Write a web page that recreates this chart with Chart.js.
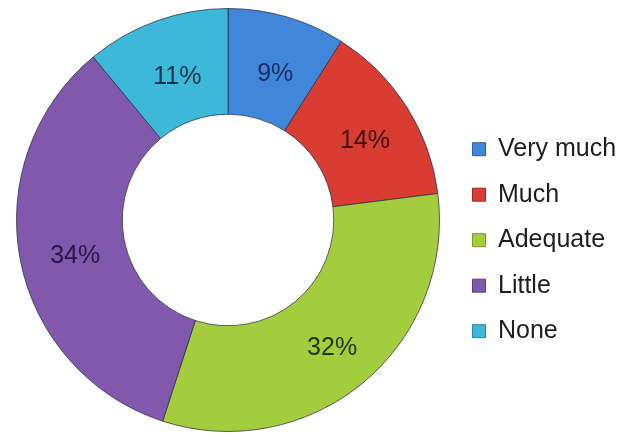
<!DOCTYPE html>
<html>
<head>
<meta charset="utf-8">
<script src="https://cdn.jsdelivr.net/npm/chart.js@4.4.1/dist/chart.umd.min.js"></script>
<style>
  html, body { margin: 0; padding: 0; background: #ffffff; }
  #wrap { width: 621px; height: 435px; position: relative; }
</style>
</head>
<body>
<div id="wrap"><canvas id="chart" width="621" height="435"></canvas></div>
<script>
// Survey answers: share of respondents per level
const categories = ['Very much', 'Much', 'Adequate', 'Little', 'None'];
const shares = [9, 14, 32, 34, 11];

// Slice fill, edge shade and label ink for each level
const baseColors = ['#4087d9', '#d93c31', '#a4cd3e', '#8058ac', '#3cb8d8'];
const shadeColors = ['#2a5fa8', '#a3271f', '#789a28', '#5c3b85', '#2789aa'];
const labelColors = ['#1b2d63', '#3a1010', '#1f3512', '#2a1545', '#16324a'];

function sliceFill(ctx) {
  const i = ctx.dataIndex;
  const chart = ctx.chart;
  const area = chart.chartArea;
  const meta = chart.getDatasetMeta(0);
  const arc = meta && meta.data[i];
  if (!area || !arc || !arc.outerRadius) return baseColors[i];
  const g = chart.ctx.createRadialGradient(arc.x, arc.y, arc.innerRadius, arc.x, arc.y, arc.outerRadius);
  g.addColorStop(0, shadeColors[i]);
  g.addColorStop(0.06, baseColors[i]);
  g.addColorStop(0.93, baseColors[i]);
  g.addColorStop(1, shadeColors[i]);
  return g;
}

// Writes each slice's percentage at the middle of its ring segment
const sliceLabels = {
  id: 'sliceLabels',
  afterDatasetsDraw(chart) {
    const { ctx } = chart;
    const meta = chart.getDatasetMeta(0);
    ctx.save();
    ctx.font = '25px "Liberation Sans", Arial, sans-serif';
    ctx.textAlign = 'center';
    ctx.textBaseline = 'middle';
    meta.data.forEach((arc, i) => {
      const p = arc.tooltipPosition();
      ctx.fillStyle = labelColors[i];
      ctx.fillText(shares[i] + '%', p.x + 3, p.y + 6);
    });
    ctx.restore();
  }
};

new Chart(document.getElementById('chart'), {
  type: 'doughnut',
  data: {
    labels: categories,
    datasets: [{
      data: shares,
      backgroundColor: sliceFill,
      borderColor: 'rgba(45, 45, 70, 0.75)',
      borderWidth: 1,
      cutout: '50%'
    }]
  },
  options: {
    responsive: false,
    animation: false,
    layout: { padding: { top: 8, bottom: 3, left: 4, right: 0 } },
    plugins: {
      tooltip: { enabled: false },
      legend: {
        position: 'right',
        maxWidth: 169,
        title: { display: true, text: '', padding: { top: 26, bottom: 0 }, font: { size: 12 } },
        labels: {
          boxWidth: 13,
          boxHeight: 13,
          padding: 20.5,
          color: '#1e1e1e',
          font: { size: 25, family: '"Liberation Sans", Arial, sans-serif' },
          generateLabels(chart) {
            return categories.map((name, i) => ({
              text: name,
              fillStyle: baseColors[i],
              strokeStyle: shadeColors[i],
              fontColor: '#1e1e1e',
              lineWidth: 1,
              hidden: false,
              index: i
            }));
          }
        }
      }
    }
  },
  plugins: [sliceLabels]
});
</script>
</body>
</html>
